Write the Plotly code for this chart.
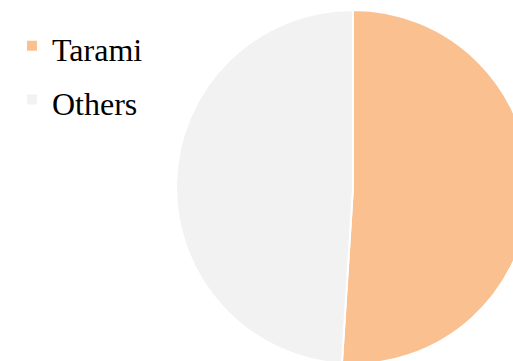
import plotly.graph_objects as go

labels = ["Tarami", "Others"]
values = [51, 49]
colors = ["#FAC090", "#F2F2F2"]

W, H = 540, 380
SERIF = "Times New Roman, Liberation Serif, DejaVu Serif, serif"

fig = go.Figure(go.Pie(
    labels=['<span style="font-size:32px">%s</span>' % l for l in labels],
    values=values,
    marker=dict(colors=colors, line=dict(color="white", width=2)),
    sort=False,
    direction="clockwise",
    rotation=0,
    textinfo="none",
    hoverinfo="label+percent",
    domain=dict(x=[176 / W, 530 / W], y=[(H - 364) / H, (H - 10) / H]),
))

fig.update_layout(
    width=W, height=H,
    margin=dict(l=0, r=0, t=0, b=0),
    paper_bgcolor="white",
    font=dict(family=SERIF),
    showlegend=True,
    legend=dict(
        x=12 / W, y=(H - 14) / H, xanchor="left", yanchor="top",
        font=dict(family=SERIF, size=39, color="black"),
        bgcolor="rgba(0,0,0,0)",
    ),
)

fig.write_html(
    "out.html",
    post_script="document.documentElement.style.overflow='hidden';document.body.style.overflow='hidden';document.body.style.margin='0';",
)
